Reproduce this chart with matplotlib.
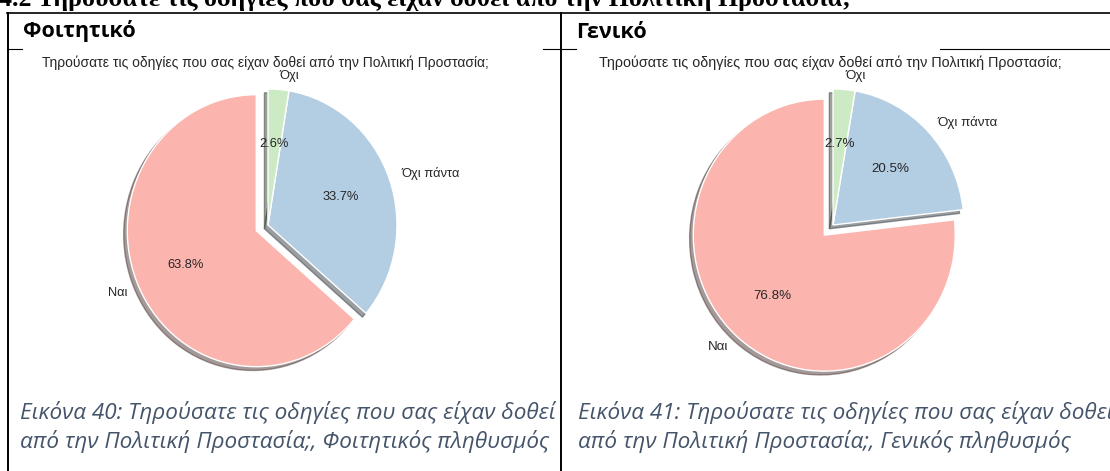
import matplotlib
matplotlib.use('Agg')
import matplotlib.pyplot as plt

# chart data
labels = ['Ναι', 'Όχι πάντα', 'Όχι']
student_vals = [63.8, 33.7, 2.6]
general_vals = [76.8, 20.5, 2.7]
colors = ['#fbb4ae', '#b3cde3', '#ccebc5']  # Pastel1
explode = (0.1, 0, 0)

chart_title = 'Τηρούσατε τις οδηγίες που σας είχαν δοθεί από την Πολιτική Προστασία;'
heading = '4.2 Τηρούσατε τις οδηγίες που σας είχαν δοθεί από την Πολιτική Προστασία;'
col_headers = ['Φοιτητικό', 'Γενικό']
captions = [
    ['Εικόνα 40: Τηρούσατε τις οδηγίες που σας είχαν δοθεί',
     'από την Πολιτική Προστασία;, Φοιτητικός πληθυσμός'],
    ['Εικόνα 41: Τηρούσατε τις οδηγίες που σας είχαν δοθεί',
     'από την Πολιτική Προστασία;, Γενικός πληθυσμός'],
]

W, H = 1110, 471
fig = plt.figure(figsize=(W / 100, H / 100), dpi=100)
fig.patch.set_facecolor('white')

# background axes in pixel coordinates for the document page
bg = fig.add_axes([0, 0, 1, 1])
bg.set_xlim(0, W)
bg.set_ylim(H, 0)
bg.axis('off')

# section heading (cut off at the top, as in the page)
bg.text(851, 6, heading, ha='right', va='baseline', fontsize=18.6,
        family='Liberation Serif', weight='bold', color='black')

# table borders
bg.plot([7, W], [13, 13], color='black', lw=1.2)
for seg in ([7, 22], [543, 576], [940, W]):
    bg.plot(seg, [49, 49], color='black', lw=0.8)
bg.plot([7.5, 7.5], [13, H], color='black', lw=1.4)
bg.plot([561, 561], [13, H], color='black', lw=1.4)

# column headers
bg.text(23, 37.5, col_headers[0], ha='left', va='baseline', fontsize=15.5,
        family='Open Sans', weight='bold', color='black')
bg.text(576, 37.5, col_headers[1], ha='left', va='baseline', fontsize=15.5,
        family='Open Sans', weight='bold', color='black')

# captions
for x0, cap in zip([20, 578], captions):
    for yb, line in zip([419, 448], cap):
        bg.text(x0, yb, line, ha='left', va='baseline', fontsize=16.2,
                family='Open Sans', style='italic', color='#44546a')

# chart titles
bg.text(265, 63, chart_title, ha='center', va='center', fontsize=10,
        family='Liberation Sans', color='#262626')
bg.text(830, 63, chart_title, ha='center', va='center', fontsize=10.4,
        family='Liberation Sans', color='#262626')


def draw_pie(rect, vals, fs):
    ax = fig.add_axes(rect)
    it = iter(vals)
    ax.pie(vals, labels=labels, colors=colors, explode=explode,
           startangle=90, shadow=True,
           autopct=lambda p: '%.1f%%' % next(it),
           wedgeprops=dict(edgecolor='white', linewidth=1),
           textprops=dict(color='#262626', fontsize=fs, family='Liberation Sans'))
    ax.set_aspect('auto')
    ax.set_xlim(-1.25, 1.25)
    ax.set_ylim(-1.25, 1.25)
    return ax


# left pie: center (268,225), rx 129, ry 136
draw_pie([106.75 / W, (H - 395) / H, 322.5 / W, 340 / H], student_vals, 9.3)
# right pie: center (833,225), rx 131, ry 136
draw_pie([669.25 / W, (H - 395) / H, 327.5 / W, 340 / H], general_vals, 9.6)

fig.savefig('out.png', dpi=100, facecolor='white')
